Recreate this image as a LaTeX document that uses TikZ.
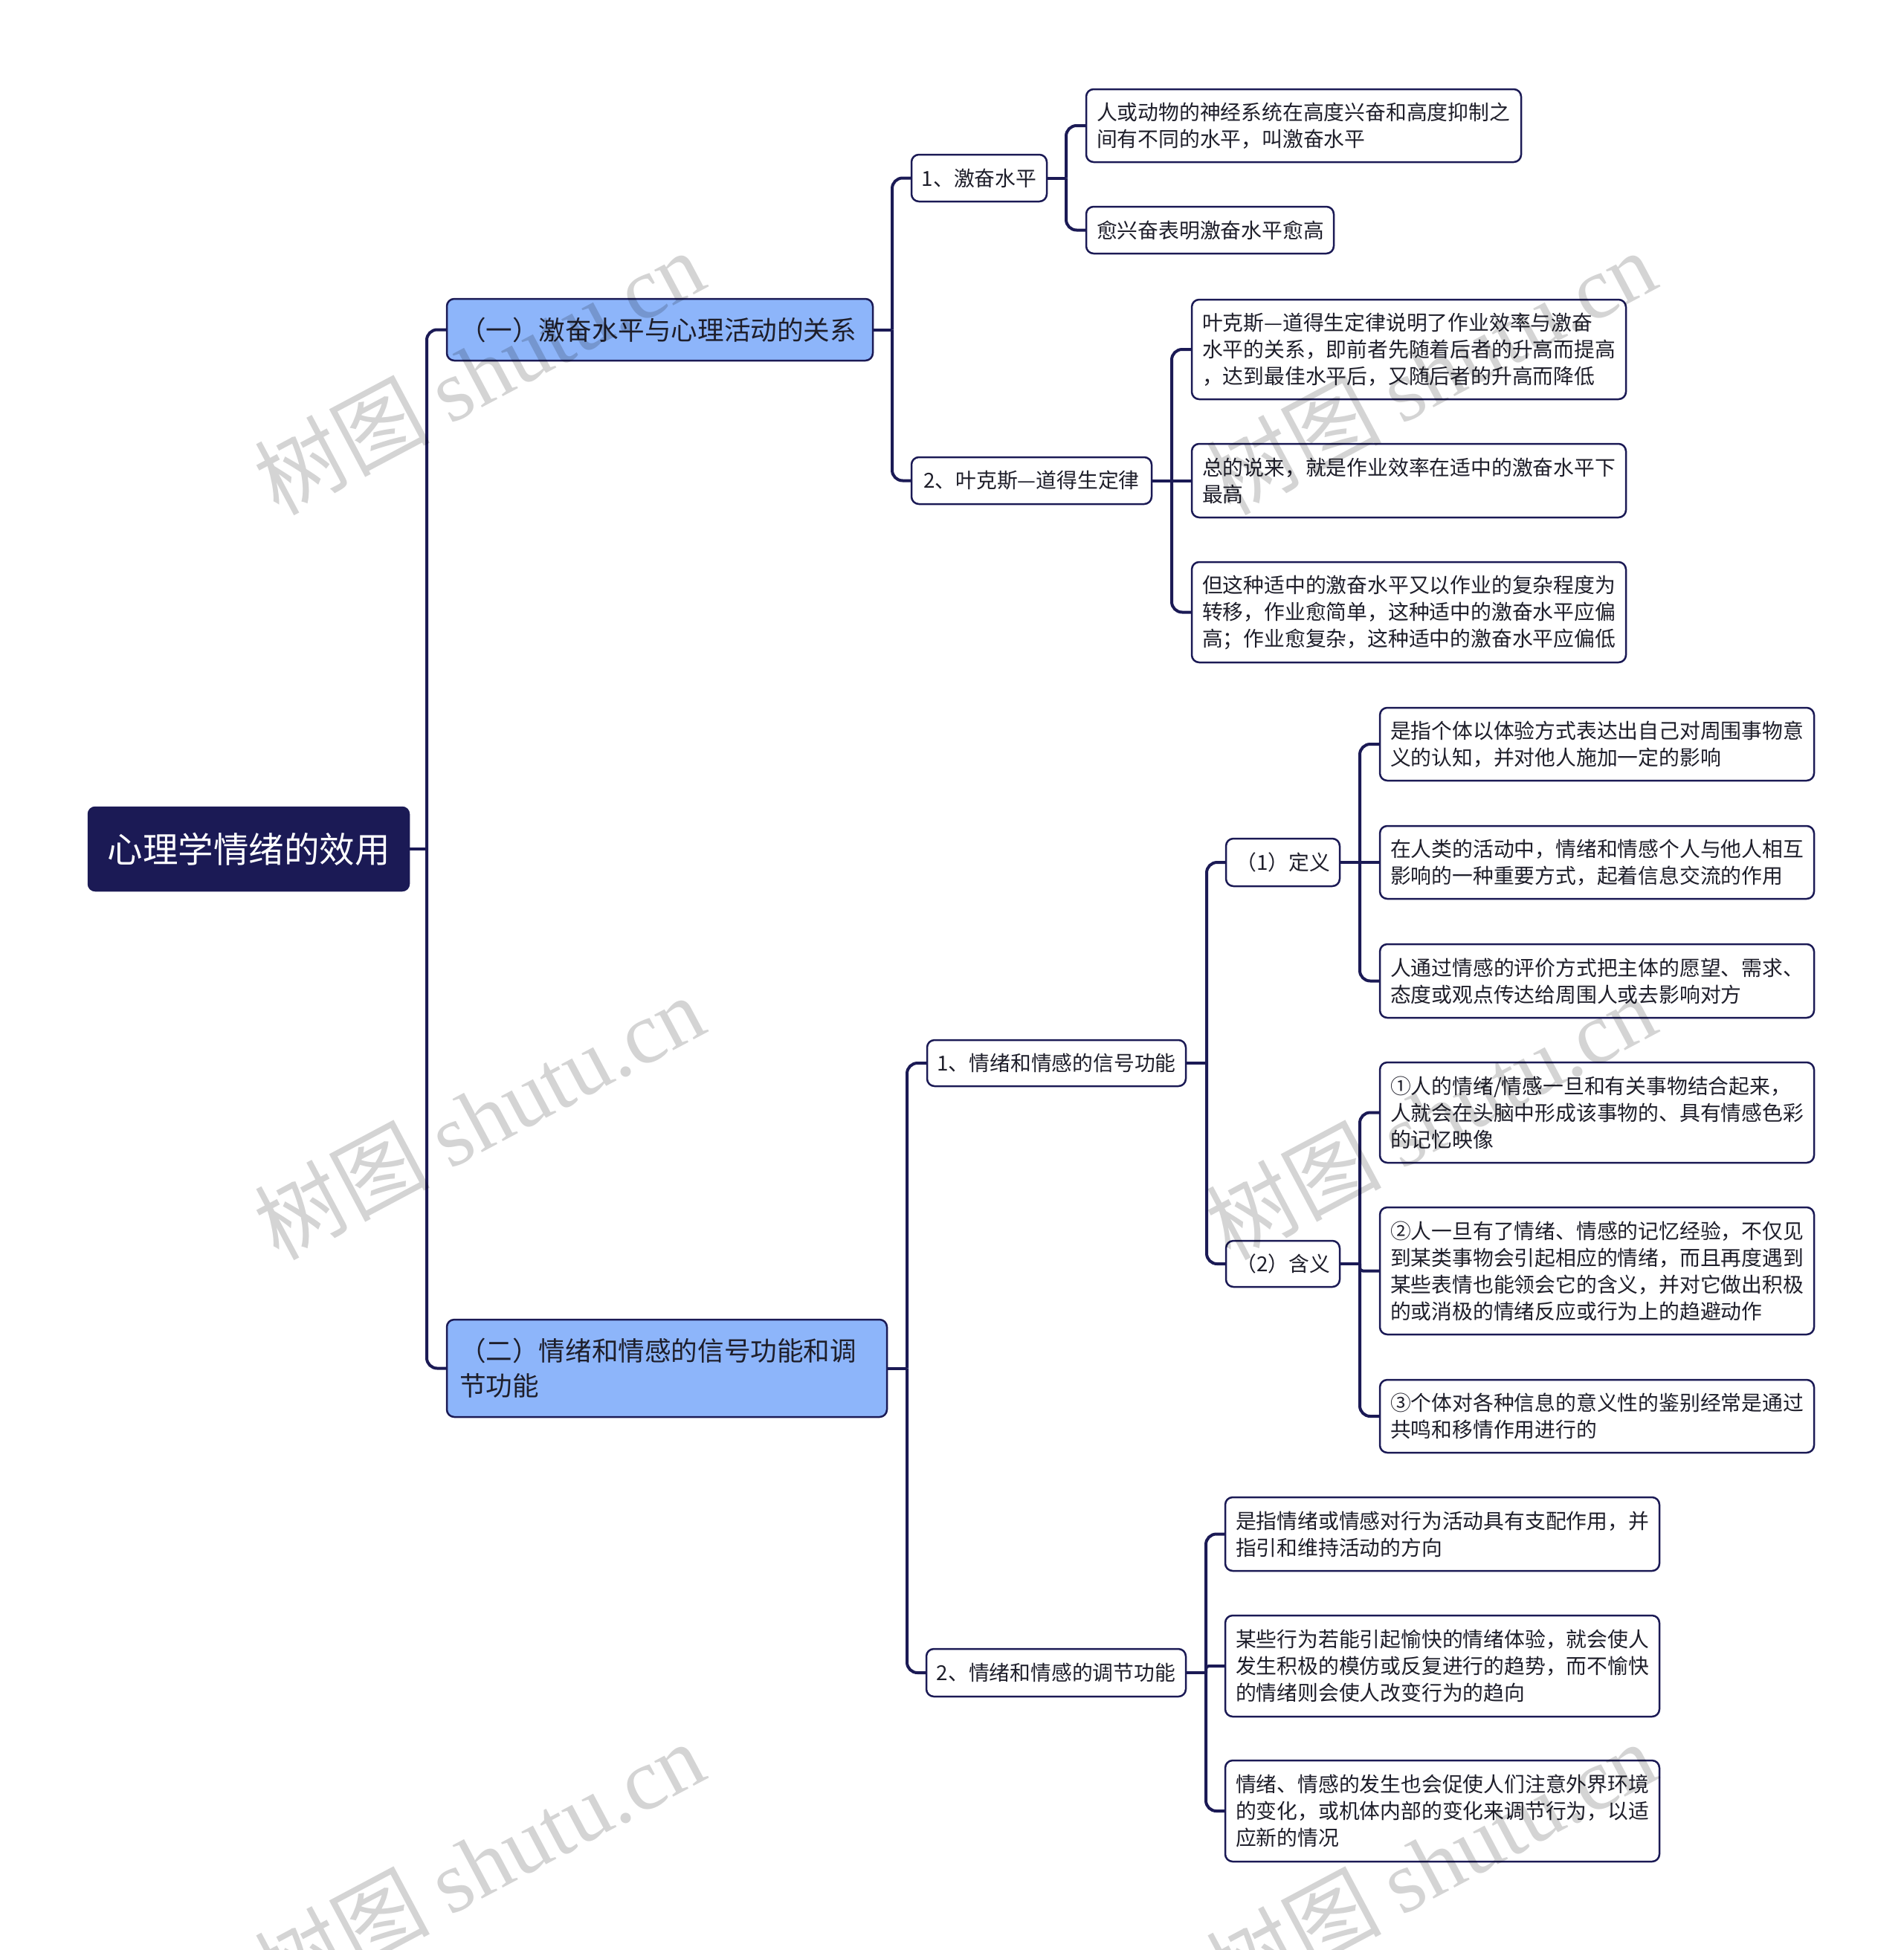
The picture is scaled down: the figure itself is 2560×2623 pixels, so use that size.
\documentclass[tikz,border=0pt]{standalone}
\usepackage{fontspec}
\setmainfont{Noto Sans CJK SC}
\newfontfamily\wmlatin{Liberation Serif}
\definecolor{navy}{HTML}{1B1A55}
\definecolor{lblue}{HTML}{8DB5FA}
\definecolor{txt}{HTML}{1E1E2A}
\begin{document}
\begin{tikzpicture}[x=1pt,y=-1pt,
 conn/.style={draw=navy, line width=4pt, rounded corners=14pt},
 stub/.style={draw=navy, line width=4pt},
 rootbox/.style={draw=navy, fill=navy, line width=2.5pt, rounded corners=9pt, text=white, font=\fontsize{47.5}{56}\selectfont, inner sep=0pt},
 topic/.style={draw=navy, fill=lblue, line width=2.5pt, rounded corners=10pt, text=txt, font=\fontsize{35.6}{47}\selectfont, align=left, inner xsep=17pt, inner ysep=0pt},
 sub/.style={draw=navy, fill=white, line width=2.5pt, rounded corners=10pt, text=txt, font=\fontsize{27.8}{36}\selectfont, inner sep=0pt},
 leaf/.style={draw=navy, fill=white, line width=2.5pt, rounded corners=10pt, text=txt, font=\fontsize{27.8}{36}\selectfont, align=left, inner xsep=14pt, inner ysep=0pt},
 wm/.style={rotate=28, text=black, opacity=0.17, font=\fontsize{118}{128}\selectfont}
]
\useasboundingbox (0,0) rectangle (2560,2623);

% root and topics
\node[rootbox, minimum width=431pt, minimum height=112pt] (root) at (334.5,1142) {心理学情绪的效用};
\node[topic, text width=539pt, minimum height=83pt] (A) at (887.5,443.5) {（一）激奋水平与心理活动的关系};
\node[topic, text width=558pt, minimum height=131pt] (B) at (897,1840.5) {（二）情绪和情感的信号功能和调\\节功能};

% level 2
\node[sub, minimum width=182pt, minimum height=63pt] (A1) at (1317,239.5) {1、激奋水平};
\node[sub, minimum width=323pt, minimum height=63pt] (A2) at (1387.5,646.5) {2、叶克斯—道得生定律};
\node[sub, minimum width=348pt, minimum height=62pt] (B1) at (1421,1430) {1、情绪和情感的信号功能};
\node[sub, minimum width=349pt, minimum height=64pt] (B2) at (1420.5,2250) {2、情绪和情感的调节功能};
\node[sub, minimum width=153pt, minimum height=64pt] (B1a) at (1725.5,1160) {（1）定义};
\node[sub, minimum width=153pt, minimum height=62pt] (B1b) at (1725.5,1700) {（2）含义};

% leaves
\node[leaf, text width=557pt, minimum height=98pt] (A1a) at (1753.5,169) {人或动物的神经系统在高度兴奋和高度抑制之\\间有不同的水平，叫激奋水平};
\node[leaf, text width=305pt, minimum height=63pt] (A1b) at (1627.5,309.5) {愈兴奋表明激奋水平愈高};
\node[leaf, text width=556pt, minimum height=134pt] (A2a) at (1895,470) {叶克斯—道得生定律说明了作业效率与激奋\\水平的关系，即前者先随着后者的升高而提高\\，达到最佳水平后，又随后者的升高而降低};
\node[leaf, text width=556pt, minimum height=99pt] (A2b) at (1895,646.5) {总的说来，就是作业效率在适中的激奋水平下\\最高};
\node[leaf, text width=556pt, minimum height=135pt] (A2c) at (1895,823.5) {但这种适中的激奋水平又以作业的复杂程度为\\转移，作业愈简单，这种适中的激奋水平应偏\\高；作业愈复杂，这种适中的激奋水平应偏低};

\node[leaf, text width=556pt, minimum height=98pt] (B1a1) at (2148,1001) {是指个体以体验方式表达出自己对周围事物意\\义的认知，并对他人施加一定的影响};
\node[leaf, text width=556pt, minimum height=98pt] (B1a2) at (2148,1160) {在人类的活动中，情绪和情感个人与他人相互\\影响的一种重要方式，起着信息交流的作用};
\node[leaf, text width=556pt, minimum height=99pt] (B1a3) at (2148,1319.5) {人通过情感的评价方式把主体的愿望、需求、\\态度或观点传达给周围人或去影响对方};
\node[leaf, text width=556pt, minimum height=135pt] (B1b1) at (2148,1496.5) {①人的情绪/情感一旦和有关事物结合起来，\\人就会在头脑中形成该事物的、具有情感色彩\\的记忆映像};
\node[leaf, text width=556pt, minimum height=171pt] (B1b2) at (2148,1709.5) {②人一旦有了情绪、情感的记忆经验，不仅见\\到某类事物会引起相应的情绪，而且再度遇到\\某些表情也能领会它的含义，并对它做出积极\\的或消极的情绪反应或行为上的趋避动作};
\node[leaf, text width=556pt, minimum height=98pt] (B1b3) at (2148,1905) {③个体对各种信息的意义性的鉴别经常是通过\\共鸣和移情作用进行的};

\node[leaf, text width=556pt, minimum height=99pt] (B2a) at (1940,2063.5) {是指情绪或情感对行为活动具有支配作用，并\\指引和维持活动的方向};
\node[leaf, text width=556pt, minimum height=136pt] (B2b) at (1940,2241) {某些行为若能引起愉快的情绪体验，就会使人\\发生积极的模仿或反复进行的趋势，而不愉快\\的情绪则会使人改变行为的趋向};
\node[leaf, text width=556pt, minimum height=136pt] (B2c) at (1940,2436) {情绪、情感的发生也会促使人们注意外界环境\\的变化，或机体内部的变化来调节行为，以适\\应新的情况};

% junction coordinates
\coordinate (jR) at (574,1142);
\coordinate (jA) at (1200,443.5);
\coordinate (jB) at (1220,1840.5);
\coordinate (jA1) at (1434,239.5);
\coordinate (jA2) at (1576,646.5);
\coordinate (jB1) at (1623,1430);
\coordinate (jB2) at (1622,2250);
\coordinate (jB1a) at (1829,1160);
\coordinate (jB1b) at (1829,1700);

% connectors
\draw[stub] (root.east) -- (jR);
\draw[conn] (jR) |- (A.west);
\draw[conn] (jR) |- (B.west);

\draw[stub] (A.east) -- (jA);
\draw[conn] (jA) |- (A1.west);
\draw[conn] (jA) |- (A2.west);

\draw[stub] (B.east) -- (jB);
\draw[conn] (jB) |- (B1.west);
\draw[conn] (jB) |- (B2.west);

\draw[stub] (A1.east) -- (jA1);
\draw[conn] (jA1) |- (A1a.west);
\draw[conn] (jA1) |- (A1b.west);

\draw[stub] (A2.east) -- (jA2);
\draw[conn] (jA2) |- (A2a.west);
\draw[stub] (jA2) -- (A2b.west);
\draw[conn] (jA2) |- (A2c.west);

\draw[stub] (B1.east) -- (jB1);
\draw[conn] (jB1) |- (B1a.west);
\draw[conn] (jB1) |- (B1b.west);

\draw[stub] (B2.east) -- (jB2);
\draw[conn] (jB2) |- (B2a.west);
\draw[conn, rounded corners=4pt] (jB2) |- (B2b.west);
\draw[conn] (jB2) |- (B2c.west);

\draw[stub] (B1a.east) -- (jB1a);
\draw[conn] (jB1a) |- (B1a1.west);
\draw[stub] (jB1a) -- (B1a2.west);
\draw[conn] (jB1a) |- (B1a3.west);

\draw[stub] (B1b.east) -- (jB1b);
\draw[conn] (jB1b) |- (B1b1.west);
\draw[conn, rounded corners=4pt] (jB1b) |- (B1b2.west);
\draw[conn] (jB1b) |- (B1b3.west);

% watermarks
\begin{scope}
\clip (0,0) rectangle (2560,2623);
\node[wm] (wm1) at (644,500) {树图 \wmlatin shutu.cn};
\node[wm] (wm2) at (644,1502) {树图 \wmlatin shutu.cn};
\node[wm] (wm3) at (644,2506) {树图 \wmlatin shutu.cn};
\node[wm] (wm4) at (1924,500) {树图 \wmlatin shutu.cn};
\node[wm] (wm5) at (1924,1502) {树图 \wmlatin shutu.cn};
\node[wm] (wm6) at (1924,2506) {树图 \wmlatin shutu.cn};
\end{scope}
\end{tikzpicture}
\end{document}
